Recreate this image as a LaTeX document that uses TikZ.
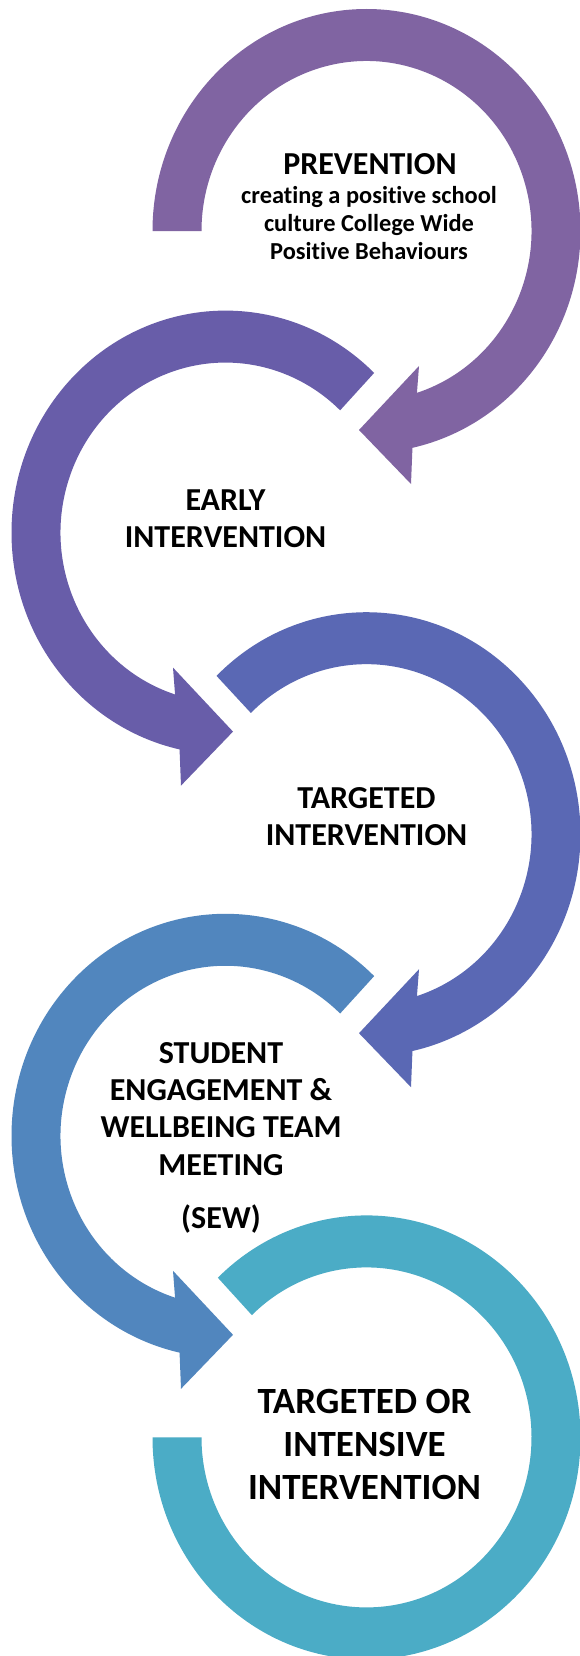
\documentclass[tikz,border=0pt]{standalone}
\usepackage{fontspec}
\setmainfont{Carlito}[Ligatures={TeX,NoCommon}]
\definecolor{cA}{HTML}{8064A2}
\definecolor{cB}{HTML}{685DA9}
\definecolor{cC}{HTML}{5A68B4}
\definecolor{cD}{HTML}{5186BE}
\definecolor{cE}{HTML}{4BACC6}
\begin{document}
\begin{tikzpicture}[x=1pt,y=1pt,
  lbl/.style={anchor=base, inner sep=0pt, text=black, font=\bfseries},
  big/.style={lbl, font=\fontsize{32}{37.4}\selectfont\bfseries},
  small/.style={lbl, font=\fontsize{24.4}{28}\selectfont\bfseries},
  huge/.style={lbl, font=\fontsize{37}{43}\selectfont\bfseries}]
\useasboundingbox[fill=white] (0,0) rectangle (580,-1656);
% arrow 1 (right, clockwise)
\begin{scope}[shift={(366.5,-231)}]
\fill[cA] (180:214 and 222) arc[start angle=180, end angle=-77.6, x radius=214, y radius=222]
  -- (44.5,-253) -- (-7.5,-199) -- (52.5,-135) -- (-72.2:165 and 170)
  arc[start angle=-72.2, end angle=180, x radius=165, y radius=170] -- cycle;
\end{scope}
% arrow 2 (left, counterclockwise)
\begin{scope}[shift={(225.5,-532.6)}]
\fill[cB] (46:214 and 222) arc[start angle=46, end angle=257.6, x radius=214, y radius=222]
  -- (-44.5,-253) -- (7.5,-199) -- (-52.5,-135) -- (252.2:165 and 170)
  arc[start angle=252.2, end angle=46, x radius=165, y radius=170] -- cycle;
\end{scope}
% arrow 3 (right, clockwise)
\begin{scope}[shift={(366.5,-834.2)}]
\fill[cC] (134.5:214 and 222) arc[start angle=134.5, end angle=-77.6, x radius=214, y radius=222]
  -- (44.5,-253) -- (-7.5,-199) -- (52.5,-135) -- (-72.2:165 and 170)
  arc[start angle=-72.2, end angle=134.5, x radius=165, y radius=170] -- cycle;
\end{scope}
% arrow 4 (left, counterclockwise)
\begin{scope}[shift={(225.5,-1135.8)}]
\fill[cD] (46:214 and 222) arc[start angle=46, end angle=257.6, x radius=214, y radius=222]
  -- (-44.5,-253) -- (7.5,-199) -- (-52.5,-135) -- (252.2:165 and 170)
  arc[start angle=252.2, end angle=46, x radius=165, y radius=170] -- cycle;
\end{scope}
% ring 5
\begin{scope}[shift={(366.5,-1437.4)}]
\fill[cE] (180:214 and 222) arc[start angle=-180, end angle=134, x radius=214, y radius=222]
  -- (134:165 and 170)
  arc[start angle=134, end angle=-180, x radius=165, y radius=170] -- cycle;
\end{scope}
% texts
\node[big] (prev) at (370,-175) {PREVENTION};
\node[small] (prevtxt) at (369,-204) {\begin{tabular}[t]{@{}c@{}}creating a positive school\\ culture College Wide\\ Positive Behaviours\end{tabular}};
\node[big] (early) at (225.5,-510) {\begin{tabular}[t]{@{}c@{}}EARLY\\ INTERVENTION\end{tabular}};
\node[big] (targ) at (366.5,-808) {\begin{tabular}[t]{@{}c@{}}TARGETED\\ INTERVENTION\end{tabular}};
\node[big] (sew) at (221,-1063) {\begin{tabular}[t]{@{}c@{}}STUDENT\\ ENGAGEMENT \&\\ WELLBEING TEAM\\ MEETING\\[15.5pt] (SEW)\end{tabular}};
\node[huge] (intens) at (364.5,-1413) {\begin{tabular}[t]{@{}c@{}}TARGETED OR\\ INTENSIVE\\ INTERVENTION\end{tabular}};
\end{tikzpicture}
\end{document}
